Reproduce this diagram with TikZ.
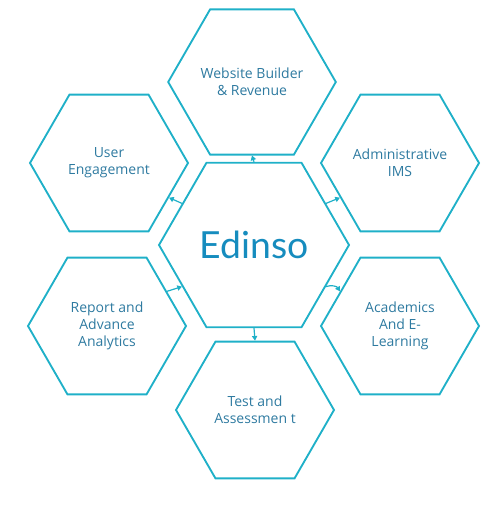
\documentclass[tikz,border=0pt]{standalone}
\usepackage{xcolor}
\definecolor{hexline}{RGB}{31,176,200}
\definecolor{hextext}{RGB}{46,122,160}
\definecolor{brand}{RGB}{22,140,190}
\usepackage{fontspec}
\setmainfont{Open Sans}
\newfontfamily\brandfont{Lato}
\usepackage{tikz}
\usetikzlibrary{
    shapes.geometric,
    arrows.meta,
    positioning,
    calc
}

\tikzset{
    hexbox/.style={regular polygon, regular polygon sides=6, draw=hexline,
        line width=1.4pt, inner sep=0pt, minimum size=118.5pt, align=center,
        text=hextext, font=\fontsize{10.5}{13}\selectfont},
    corebox/.style={hexbox, minimum size=142.5pt,
        text=brand, font=\brandfont\fontsize{28}{32}\selectfont},
    link/.style={draw=hexline, line width=0.9pt,
        -{Triangle[length=3.5pt,width=4pt]}}
}

\begin{document}
\begin{tikzpicture}[x=0.75pt, y=-0.75pt]
        \useasboundingbox (0,0) rectangle (490,509);
        % centre
        \node[corebox] (core) at (254,245) {Edinso};
        % ring of modules
        \node[hexbox, minimum size=120pt] (web) at (252,82) {Website Builder\\\& Revenue};
        \node[hexbox] (user) at (109,163) {User\\Engagement};
        \node[hexbox] (admin) at (400,163) {Administrative\\IMS};
        \node[hexbox] (report) at (107,326) {Report and\\Advance\\Analytics};
        \node[hexbox] (acad) at (400,326) {Academics\\And E-\\Learning};
        \node[hexbox] (test) at (255,410) {Test and\\Assessmen t};
        % small links between the cells
        \draw[link] (core.north) -- (web.south);
        \draw[link] (core.south) -- (test.north);
        \draw[link] (core.150) -- (user.-30);
        \draw[link] (report.30) -- (core.210);
        \draw[link] (core.30) -- (admin.210);
        \draw[link] (core.-30) to[bend left=40] (acad.150);
    \end{tikzpicture}
\end{document}
